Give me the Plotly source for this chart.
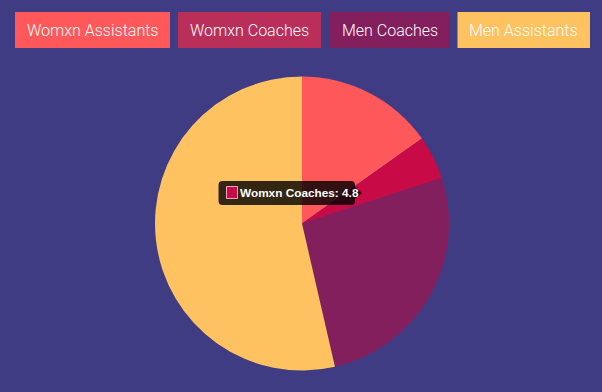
import plotly.graph_objects as go

# ---- data ----
categories = ["Womxn Assistants", "Womxn Coaches", "Men Coaches", "Men Assistants"]
values = [15.2, 4.8, 26.4, 53.6]
slice_colors = ["#ff585a", "#c80a46", "#841f5e", "#fec260"]
legend_colors = ["#ff585a", "#b92f5a", "#841f5e", "#fec260"]
tooltip_index = 1

W, H = 602, 392
BG = "#3f3c83"


def px(x):
    return x / W


def py(y):
    return 1 - y / H


fig = go.Figure()
fig.add_trace(go.Pie(
    labels=categories,
    values=values,
    sort=False,
    direction="clockwise",
    rotation=0,
    marker=dict(colors=slice_colors, line=dict(width=0)),
    textinfo="none",
    hoverinfo="skip",
    showlegend=False,
    domain=dict(x=[px(155), px(449)], y=[py(370.5), py(76.5)]),
))

shapes = []
annotations = []

# custom legend boxes
legend_boxes = [(15, 170), (178, 321), (329.5, 449.5), (457.5, 590)]
for (x0, x1), name, col in zip(legend_boxes, categories, legend_colors):
    shapes.append(dict(type="rect", xref="paper", yref="paper",
                       x0=px(x0), x1=px(x1), y0=py(48), y1=py(12),
                       fillcolor=col, line=dict(width=0), layer="above"))
    annotations.append(dict(x=px((x0 + x1) / 2), y=py(30.5), xref="paper", yref="paper",
                            text=name, showarrow=False, xanchor="center", yanchor="middle",
                            font=dict(family="Roboto", size=16, weight=300, color="#ffffff")))

# tooltip
tx0, tx1, ty0, ty1 = 218.5, 355, 181, 205
shapes.append(dict(type="path", xref="paper", yref="paper",
                   path=(f"M {px(tx0+4)},{py(ty0)} L {px(tx1-4)},{py(ty0)} "
                         f"Q {px(tx1)},{py(ty0)} {px(tx1)},{py(ty0+4)} "
                         f"L {px(tx1)},{py(187)} L {px(362)},{py(193)} L {px(tx1)},{py(199)} "
                         f"L {px(tx1)},{py(ty1-4)} Q {px(tx1)},{py(ty1)} {px(tx1-4)},{py(ty1)} "
                         f"L {px(tx0+4)},{py(ty1)} Q {px(tx0)},{py(ty1)} {px(tx0)},{py(ty1-4)} "
                         f"L {px(tx0)},{py(ty0+4)} Q {px(tx0)},{py(ty0)} {px(tx0+4)},{py(ty0)} Z"),
                   fillcolor="rgba(0,0,0,0.8)", line=dict(width=0), layer="above"))
shapes.append(dict(type="rect", xref="paper", yref="paper",
                   x0=px(226.5), x1=px(237.5), y0=py(198.5), y1=py(186.5),
                   fillcolor=slice_colors[tooltip_index],
                   line=dict(color="#f0a6bd", width=1), layer="above"))
annotations.append(dict(x=px(237.5), y=py(193), xref="paper", yref="paper",
                        text=f"<b>{categories[tooltip_index]}: {values[tooltip_index]}</b>",
                        showarrow=False, xanchor="left", yanchor="middle",
                        font=dict(family="Liberation Sans, Arial", size=11.8, color="#ffffff")))

fig.update_layout(
    width=W, height=H,
    margin=dict(l=0, r=0, t=0, b=0),
    paper_bgcolor=BG, plot_bgcolor=BG,
    shapes=shapes, annotations=annotations,
    showlegend=False,
)

fig.write_html("out.html", config={"displayModeBar": False},
               post_script="document.body.style.margin='0';document.body.style.background='" + BG + "';")
